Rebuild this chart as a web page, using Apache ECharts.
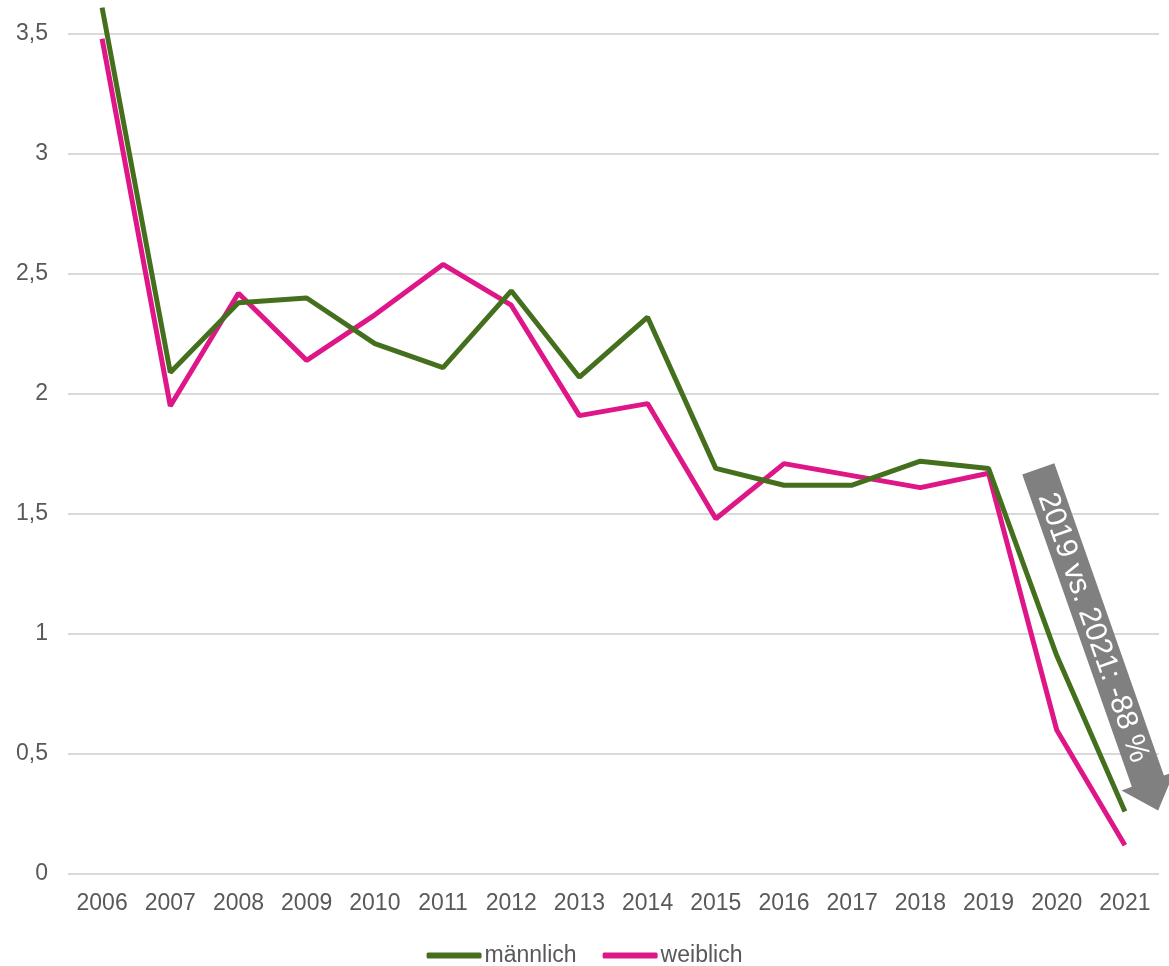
<!DOCTYPE html>
<html>
<head>
<meta charset="utf-8">
<script src="https://cdn.jsdelivr.net/npm/echarts@6/dist/echarts.min.js"></script>
<style>
  html, body { margin: 0; padding: 0; background: #fff; }
  #chart { width: 1169px; height: 966px; }
</style>
</head>
<body>
<div id="chart"></div>
<script>
// Jahre
const years = ["2006", "2007", "2008", "2009", "2010", "2011", "2012", "2013",
  "2014", "2015", "2016", "2017", "2018", "2019", "2020", "2021"];
// Werte
const maennlich = [3.61, 2.09, 2.38, 2.40, 2.21, 2.11, 2.43, 2.07,
  2.32, 1.69, 1.62, 1.62, 1.72, 1.69, 0.91, 0.26];
const weiblich = [3.48, 1.95, 2.42, 2.14, 2.33, 2.54, 2.37, 1.91,
  1.96, 1.48, 1.71, 1.66, 1.61, 1.67, 0.60, 0.12];
const arrowText = "2019 vs. 2021: -88 %";

const font = "'Liberation Sans', Arial, sans-serif";
const labelColor = "#595959";

let myChart = echarts.init(document.getElementById("chart"));

// Pfeil: Länge, Spitze, Breite
const L = 362;
const head = 31;
const arrowPoints = [
  [0, -17], [L - head, -17], [L - head, -28], [L, 0],
  [L - head, 28], [L - head, 17], [0, 17]
];

myChart.setOption({
  animation: false,
  grid: {
    left: 68,
    right: 10,
    top: 34,
    bottom: 92
  },
  legend: {
    top: 939,
    itemWidth: 55,
    itemHeight: 6,
    itemGap: 26,
    icon: "roundRect",
    textStyle: {
      color: labelColor,
      fontSize: 23,
      fontFamily: font,
      padding: [0, 0, 0, -2]
    },
    data: ["männlich", "weiblich"]
  },
  xAxis: {
    type: "category",
    data: years,
    boundaryGap: true,
    axisLine: { show: false },
    axisTick: { show: false },
    axisLabel: {
      interval: 0,
      color: labelColor,
      fontSize: 23,
      fontFamily: font,
      margin: 18
    }
  },
  yAxis: {
    type: "value",
    min: 0,
    max: 3.5,
    interval: 0.5,
    axisLine: { show: false },
    axisTick: { show: false },
    splitLine: {
      lineStyle: { color: "#d9d9d9", width: 2 }
    },
    axisLabel: {
      color: labelColor,
      fontSize: 23,
      fontFamily: font,
      margin: 20,
      formatter: (v) => String(v).replace(".", ",")
    }
  },
  series: [
    {
      name: "männlich",
      type: "line",
      data: maennlich,
      // Linie über den Rand hinaus zeichnen
      clip: false,
      showSymbol: false,
      symbol: "none",
      z: 3,
      itemStyle: { color: "#44701e" },
      lineStyle: { color: "#44701e", width: 5 }
    },
    {
      name: "weiblich",
      type: "line",
      data: weiblich,
      clip: false,
      showSymbol: false,
      symbol: "none",
      z: 2,
      itemStyle: { color: "#df1687" },
      lineStyle: { color: "#df1687", width: 5 }
    }
  ],
  graphic: [
    {
      type: "group",
      x: 1038.3,
      y: 468.8,
      rotation: -70.67 * Math.PI / 180,
      children: [
        {
          type: "polygon",
          z: 100,
          shape: { points: arrowPoints },
          style: { fill: "#808080" }
        },
        {
          type: "text",
          z: 101,
          x: 168,
          y: 1,
          style: {
            text: arrowText,
            fill: "#fff",
            fontSize: 30,
            fontFamily: font,
            align: "center",
            verticalAlign: "middle"
          }
        }
      ]
    }
  ]
});
</script>
</body>
</html>
